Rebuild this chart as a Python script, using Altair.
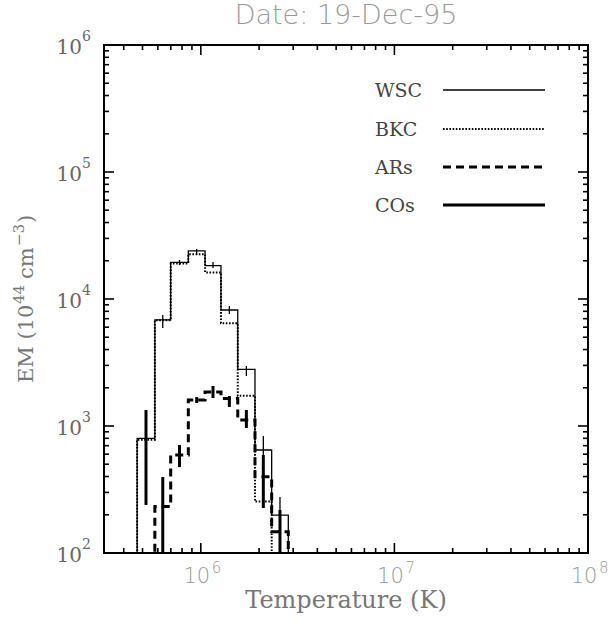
import math
import altair as alt
import pandas as pd

# ---------------- data ----------------
title_text = "Date: 19-Dec-95"
series_names = ["WSC", "BKC", "ARs", "COs"]

# histogram bin edges (temperature, K)
edges_K = [4.69e5, 5.79e5, 6.99e5, 8.62e5, 1.052e6, 1.271e6, 1.552e6, 1.905e6, 2.323e6, 2.831e6]

# emission measure per bin (10^44 cm^-3); 0 = below the plotted range
wsc_em = [800, 6840, 19450, 23900, 18300, 8190, 2790, 647, 199]
bkc_em = [780, 6800, 19000, 22500, 16200, 6440, 1730, 254, 0]
ars_em = [0, 232, 590, 1600, 1850, 1650, 1115, 398, 147]

# error bars (low / high) per bin; None = no bar visible
wsc_lo = [None, 5920, 18500, 22200, 17540, 7620, 2475, 356, 124]
wsc_hi = [None, 7480, 20300, 24800, 19550, 8810, 2970, 834, 276]
ars_lo = [None, None, 475, 1517, 1660, 1413, 964, 226, 80]
ars_hi = [None, None, 708, 1690, 2065, 1722, 1337, 591, 218]
cos_lo = [239, 50, None, None, None, None, None, None, None]
cos_hi = [1337, 396, None, None, None, None, None, None, None]

# axis ticks / labels
x_major = [1e6, 1e7, 1e8]
x_major_exp = ["6", "7", "8"]
x_minor = [m * 10 ** k for k in (5, 6, 7) for m in range(2, 10) if 10 ** 5.5 < m * 10 ** k < 1e8]
y_major = [1e2, 1e3, 1e4, 1e5, 1e6]
y_major_exp = ["2", "3", "4", "5", "6"]
y_minor = [m * 10 ** k for k in (2, 3, 4, 5) for m in range(2, 10)]

# ---------------- layout ----------------
W, H = 484, 508
FLOOR = 1.0  # stand-in for empty bins (off the bottom of the log axis)

xs = alt.Scale(type="log", domain=[10 ** 5.5, 1e8], nice=False)
ys = alt.Scale(type="log", domain=[1e2, 1e6], nice=False)

SERIF = "DejaVu Serif"
SANS = "DejaVu Sans"


def step_df(vals):
    rows = [{"T": edges_K[0], "EM": FLOOR, "i": 0}]
    for k, v in enumerate(vals):
        rows.append({"T": edges_K[k], "EM": v if v > 0 else FLOOR, "i": k + 1})
    rows.append({"T": edges_K[-1], "EM": FLOOR, "i": len(vals) + 1})
    return pd.DataFrame(rows)


def err_df(lo, hi):
    rows = []
    for k in range(len(lo)):
        if lo[k] is None:
            continue
        rows.append({"T": math.sqrt(edges_K[k] * edges_K[k + 1]), "lo": lo[k], "hi": hi[k]})
    return pd.DataFrame(rows)


def step_layer(vals, **mk):
    return alt.Chart(step_df(vals)).mark_line(interpolate="step-after", clip=True, color="black", **mk).encode(
        x=alt.X("T:Q", scale=xs, axis=None),
        y=alt.Y("EM:Q", scale=ys, axis=None),
        order=alt.Order("i:Q"),
    )


def err_layer(lo, hi, width):
    return alt.Chart(err_df(lo, hi)).mark_rule(clip=True, color="black", strokeWidth=width).encode(
        x=alt.X("T:Q", scale=xs, axis=None),
        y=alt.Y("lo:Q", scale=ys, axis=None),
        y2="hi:Q",
    )


BKC_STYLE = dict(strokeWidth=2, strokeDash=[1.6, 1.6])
layers = []
layers.append(step_layer(bkc_em, **BKC_STYLE))
layers.append(step_layer(wsc_em, strokeWidth=1.3))
layers.append(step_layer(ars_em, strokeWidth=3, strokeDash=[8, 5]))
layers.append(err_layer(wsc_lo, wsc_hi, 1.3))
layers.append(err_layer(ars_lo, ars_hi, 3))
layers.append(err_layer(cos_lo, cos_hi, 3))

# ---------------- inward ticks on all four sides ----------------
def xtick(vals, y0, y1):
    return alt.Chart(pd.DataFrame({"T": vals})).mark_rule(color="black", strokeWidth=1.6).encode(
        x=alt.X("T:Q", scale=xs, axis=None), y=alt.value(y0), y2=alt.value(y1))


def ytick(vals, x0, x1):
    return alt.Chart(pd.DataFrame({"EM": vals})).mark_rule(color="black", strokeWidth=1.6).encode(
        y=alt.Y("EM:Q", scale=ys, axis=None), x=alt.value(x0), x2=alt.value(x1))


MAJ, MIN = 10, 5
layers += [
    xtick(x_major, H, H - MAJ), xtick(x_minor, H, H - MIN),
    xtick(x_major, 0, MAJ), xtick(x_minor, 0, MIN),
    ytick(y_major, 0, MAJ), ytick(y_minor, 0, MIN),
    ytick(y_major, W, W - MAJ), ytick(y_minor, W, W - MIN),
]

# ---------------- tick labels ----------------
xl = pd.DataFrame({"T": x_major, "base": ["10"] * 3, "exp": x_major_exp})
layers.append(alt.Chart(xl).mark_text(font=SANS, fontSize=21, color="#999999", align="center",
                                      baseline="alphabetic", dx=-4, dy=30, fontWeight=300).encode(
    x=alt.X("T:Q", scale=xs, axis=None), y=alt.value(H), text="base:N"))
layers.append(alt.Chart(xl).mark_text(font=SANS, fontSize=15, color="#999999", align="left",
                                      baseline="alphabetic", dx=11, dy=20, fontWeight=300).encode(
    x=alt.X("T:Q", scale=xs, axis=None), y=alt.value(H), text="exp:N"))

yl = pd.DataFrame({"EM": y_major, "base": ["10"] * 5, "exp": y_major_exp})
layers.append(alt.Chart(yl).mark_text(font=SERIF, fontSize=20, color="#666666", align="right",
                                      baseline="middle", dx=-22, dy=3).encode(
    y=alt.Y("EM:Q", scale=ys, axis=None), x=alt.value(0), text="base:N"))
layers.append(alt.Chart(yl).mark_text(font=SERIF, fontSize=14, color="#666666", align="left",
                                      baseline="middle", dx=-22, dy=-8).encode(
    y=alt.Y("EM:Q", scale=ys, axis=None), x=alt.value(0), text="exp:N"))

# ---------------- titles ----------------
def label(text, x, y, size, font, color, angle=0, align="center", weight=400):
    mk = dict(font=font, fontSize=size, color=color, align=align, baseline="alphabetic", fontWeight=weight)
    if angle:
        mk["angle"] = angle
    return alt.Chart(pd.DataFrame({"t": [text]})).mark_text(**mk).encode(
        text="t:N", x=alt.value(x), y=alt.value(y))


layers.append(label(title_text, 242, -21, 27, SANS, "#999999", weight=300))
layers.append(label("Temperature (K)", 242, 563, 24, SERIF, "#777777"))

# y title pieces: EM (10^44 cm^-3), rotated
layers.append(label("EM (10", -71, 338, 21, SERIF, "#777777", angle=270, align="left"))
layers.append(label("44", -80, 259, 15, SERIF, "#777777", angle=270, align="left"))
layers.append(label("cm", -71, 234, 21, SERIF, "#777777", angle=270, align="left"))
layers.append(label("\u22123", -80, 201, 15, SERIF, "#777777", angle=270, align="left"))
layers.append(label(")", -71, 178, 21, SERIF, "#777777", angle=270, align="left"))

# ---------------- legend ----------------
leg_y = [45, 84, 122, 160]
leg_style = [dict(strokeWidth=1.3), BKC_STYLE, dict(strokeWidth=3, strokeDash=[8, 5]), dict(strokeWidth=3)]
for name, yy, st in zip(series_names, leg_y, leg_style):
    layers.append(label(name, 271, yy + 7, 19, SERIF, "#444444", align="left"))
    layers.append(alt.Chart(pd.DataFrame({"t": [name]})).mark_rule(color="black", **st).encode(
        x=alt.value(339), x2=alt.value(441), y=alt.value(yy)))

chart = alt.layer(*layers).properties(
    width=W, height=H,
    padding={"left": 104, "top": 45, "right": 22, "bottom": 69},
    autosize=alt.AutoSizeParams(type="none"),
).configure_view(stroke="black", strokeWidth=2)

chart.save("out.html", embed_options={"renderer": "svg", "actions": False})
